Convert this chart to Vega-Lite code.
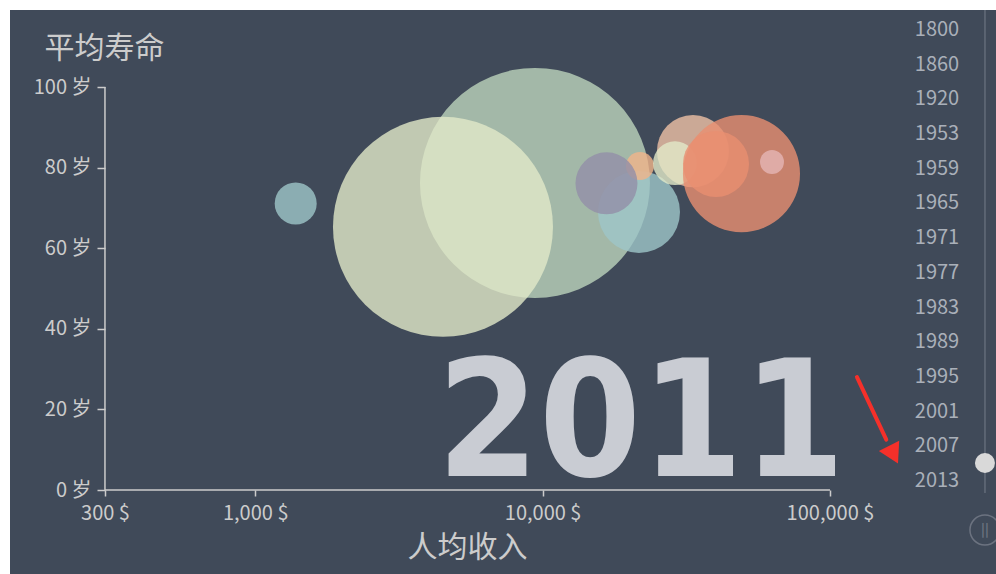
{
  "$schema": "https://vega.github.io/schema/vega-lite/v6.json",
  "width": 986,
  "height": 564,
  "autosize": {"type": "none"},
  "padding": {"left": 10, "top": 10, "right": 0, "bottom": 0},
  "background": "#ffffff",
  "config": {"view": {"stroke": null, "fill": "#404a59"}, "font": "Noto Sans CJK SC"},
  "datasets": {
    "countries": [
      {"country": "China", "income": 9407, "life": 76.2, "population": 1344},
      {"country": "India", "income": 4501, "life": 65.3, "population": 1217},
      {"country": "North Korea", "income": 1383, "life": 71.1, "population": 26},
      {"country": "Russia", "income": 21645, "life": 69.0, "population": 131},
      {"country": "Poland", "income": 21820, "life": 80.4, "population": 8.1},
      {"country": "Turkey", "income": 16683, "life": 76.1, "population": 68},
      {"country": "Japan", "income": 33365, "life": 84.1, "population": 97},
      {"country": "South Korea", "income": 28885, "life": 81.1, "population": 29},
      {"country": "United States", "income": 49208, "life": 78.5, "population": 295},
      {"country": "Iceland", "income": 40117, "life": 80.9, "population": 79},
      {"country": "Norway", "income": 62840, "life": 81.4, "population": 4.6}
    ],
    "timeline": [
      {"year": "1800"}, {"year": "1860"}, {"year": "1920"}, {"year": "1953"},
      {"year": "1959"}, {"year": "1965"}, {"year": "1971"}, {"year": "1977"},
      {"year": "1983"}, {"year": "1989"}, {"year": "1995"}, {"year": "2001"},
      {"year": "2007"}, {"year": "2013"}
    ],
    "current": [{"year": "2011"}],
    "one": [{}]
  },
  "layer": [
    {
      "data": {"name": "one"},
      "mark": {"type": "rule", "color": "#cccccc", "strokeWidth": 1.5},
      "encoding": {
        "x": {"datum": 300, "type": "quantitative", "scale": {"type": "log", "domain": [140.17, 378200], "nice": false}, "axis": null},
        "x2": {"datum": 100000},
        "y": {"datum": 0, "type": "quantitative", "scale": {"domain": [-20.84, 119.11], "nice": false, "zero": false}, "axis": null}
      }
    },
    {
      "data": {"name": "one"},
      "mark": {"type": "rule", "color": "#cccccc", "strokeWidth": 1.5},
      "encoding": {
        "x": {"datum": 300, "type": "quantitative", "scale": {"type": "log", "domain": [140.17, 378200], "nice": false}, "axis": null},
        "y": {"datum": 0, "type": "quantitative", "scale": {"domain": [-20.84, 119.11], "nice": false, "zero": false}, "axis": null},
        "y2": {"datum": 100}
      }
    },
    {
      "data": {"name": "current"},
      "mark": {"type": "text", "font": "DejaVu Sans Condensed, Liberation Sans", "fontWeight": "bold", "fontSize": 163, "align": "left", "baseline": "alphabetic", "color": "#c9ccd3"},
      "encoding": {
        "x": {"datum": 4290, "type": "quantitative", "scale": {"type": "log", "domain": [140.17, 378200], "nice": false}, "axis": null},
        "y": {"datum": 3.6, "type": "quantitative", "scale": {"domain": [-20.84, 119.11], "nice": false, "zero": false}, "axis": null},
        "text": {"field": "year", "type": "nominal"}
      }
    },
    {
      "data": {"name": "countries"},
      "mark": {"type": "circle", "opacity": 0.8},
      "encoding": {
        "x": {
          "field": "income", "type": "quantitative",
          "scale": {"type": "log", "domain": [140.17, 378200], "nice": false},
          "axis": {
            "values": [300, 1000, 10000, 100000], "domain": false, "grid": false,
            "offset": -84, "tickColor": "#cccccc", "tickSize": 6, "tickWidth": 1.5,
            "labelColor": "#cccccc", "labelFontSize": 20, "labelPadding": 7,
            "labelFlush": false, "labelOverlap": false,
            "labelExpr": "format(datum.value, ',') + ' $'",
            "title": "人均收入", "titleColor": "#cccccc", "titleFontSize": 30, "titleFontWeight": "normal",
            "titleX": 457, "titleY": 57, "titleAlign": "center", "titleBaseline": "middle"
          }
        },
        "y": {
          "field": "life", "type": "quantitative",
          "scale": {"domain": [-20.84, 119.11], "nice": false, "zero": false},
          "axis": {
            "values": [0, 20, 40, 60, 80, 100], "domain": false, "grid": false,
            "offset": -95, "tickColor": "#cccccc", "tickSize": 8, "tickWidth": 1.5,
            "labelColor": "#cccccc", "labelFontSize": 20, "labelPadding": 6,
            "labelExpr": "datum.value + ' 岁'",
            "title": "平均寿命", "titleColor": "#cccccc", "titleFontSize": 30, "titleFontWeight": "normal",
            "titleAngle": 0, "titleX": -1, "titleY": 38, "titleAlign": "center", "titleBaseline": "middle"
          }
        },
        "size": {"field": "population", "type": "quantitative", "scale": {"type": "pow", "exponent": 0.9, "domain": [0, 1344], "range": [255, 52900]}, "legend": null},
        "color": {
          "field": "country", "type": "nominal", "legend": null,
          "scale": {
            "domain": ["China", "India", "North Korea", "Russia", "Poland", "Turkey", "Japan", "South Korea", "United States", "Iceland", "Norway"],
            "range": ["#bcd3bb", "#e1e8c8", "#9dc5c8", "#9dc5c8", "#f0b489", "#928ea8", "#edc1a5", "#e1e8c8", "#e88f70", "#e88f70", "#e5b5b5"]
          }
        }
      }
    },
    {
      "data": {"name": "one"},
      "mark": {"type": "rule", "color": "#f5302a", "strokeWidth": 4, "strokeCap": "round"},
      "encoding": {
        "x": {"datum": 124150, "type": "quantitative", "scale": {"type": "log", "domain": [140.17, 378200], "nice": false}, "axis": null},
        "x2": {"datum": 157000},
        "y": {"datum": 28.0, "type": "quantitative", "scale": {"domain": [-20.84, 119.11], "nice": false, "zero": false}, "axis": null},
        "y2": {"datum": 12.5}
      }
    },
    {
      "data": {"name": "one"},
      "mark": {"type": "point", "shape": "triangle", "filled": true, "color": "#f5302a", "opacity": 1, "size": 520, "angle": 153},
      "encoding": {
        "x": {"datum": 164400, "type": "quantitative", "scale": {"type": "log", "domain": [140.17, 378200], "nice": false}, "axis": null},
        "y": {"datum": 9.5, "type": "quantitative", "scale": {"domain": [-20.84, 119.11], "nice": false, "zero": false}, "axis": null}
      }
    },
    {
      "data": {"name": "one"},
      "mark": {"type": "rule", "color": "#5b6472", "strokeWidth": 2, "yOffset": -20, "y2Offset": 12},
      "encoding": {
        "x": {"datum": 346200, "type": "quantitative", "scale": {"type": "log", "domain": [140.17, 378200], "nice": false}, "axis": null},
        "y": {"datum": "1800", "type": "ordinal", "scale": {"type": "point", "padding": 0, "domain": ["1800", "1860", "1920", "1953", "1959", "1965", "1971", "1977", "1983", "1989", "1995", "2001", "2007", "2013"], "range": [20, 471]}, "axis": null},
        "y2": {"datum": "2013"}
      }
    },
    {
      "data": {"name": "timeline"},
      "mark": {"type": "text", "fontSize": 20, "color": "#aab0b9", "align": "center", "baseline": "middle"},
      "encoding": {
        "x": {"datum": 235700, "type": "quantitative", "scale": {"type": "log", "domain": [140.17, 378200], "nice": false}, "axis": null},
        "y": {"field": "year", "type": "ordinal", "scale": {"type": "point", "padding": 0, "domain": ["1800", "1860", "1920", "1953", "1959", "1965", "1971", "1977", "1983", "1989", "1995", "2001", "2007", "2013"], "range": [20, 471]}, "axis": null},
        "text": {"field": "year", "type": "nominal"}
      }
    },
    {
      "data": {"name": "one"},
      "mark": {"type": "circle", "color": "#d9d9d9", "opacity": 1, "size": 400, "yOffset": -18},
      "encoding": {
        "x": {"datum": 346200, "type": "quantitative", "scale": {"type": "log", "domain": [140.17, 378200], "nice": false}, "axis": null},
        "y": {"datum": "2013", "type": "ordinal", "scale": {"type": "point", "padding": 0, "domain": ["1800", "1860", "1920", "1953", "1959", "1965", "1971", "1977", "1983", "1989", "1995", "2001", "2007", "2013"], "range": [20, 471]}, "axis": null}
      }
    },
    {
      "data": {"name": "one"},
      "mark": {"type": "point", "shape": "circle", "filled": false, "color": "#6c7380", "strokeWidth": 1.5, "opacity": 1, "size": 900, "yOffset": 49},
      "encoding": {
        "x": {"datum": 346200, "type": "quantitative", "scale": {"type": "log", "domain": [140.17, 378200], "nice": false}, "axis": null},
        "y": {"datum": "2013", "type": "ordinal", "scale": {"type": "point", "padding": 0, "domain": ["1800", "1860", "1920", "1953", "1959", "1965", "1971", "1977", "1983", "1989", "1995", "2001", "2007", "2013"], "range": [20, 471]}, "axis": null}
      }
    },
    {
      "data": {"name": "one"},
      "mark": {"type": "text", "text": "||", "fontSize": 13, "fontWeight": "bold", "color": "#6c7380", "align": "center", "baseline": "middle", "yOffset": 49},
      "encoding": {
        "x": {"datum": 346200, "type": "quantitative", "scale": {"type": "log", "domain": [140.17, 378200], "nice": false}, "axis": null},
        "y": {"datum": "2013", "type": "ordinal", "scale": {"type": "point", "padding": 0, "domain": ["1800", "1860", "1920", "1953", "1959", "1965", "1971", "1977", "1983", "1989", "1995", "2001", "2007", "2013"], "range": [20, 471]}, "axis": null}
      }
    }
  ],
  "resolve": {"scale": {"x": "independent", "y": "independent"}}
}
